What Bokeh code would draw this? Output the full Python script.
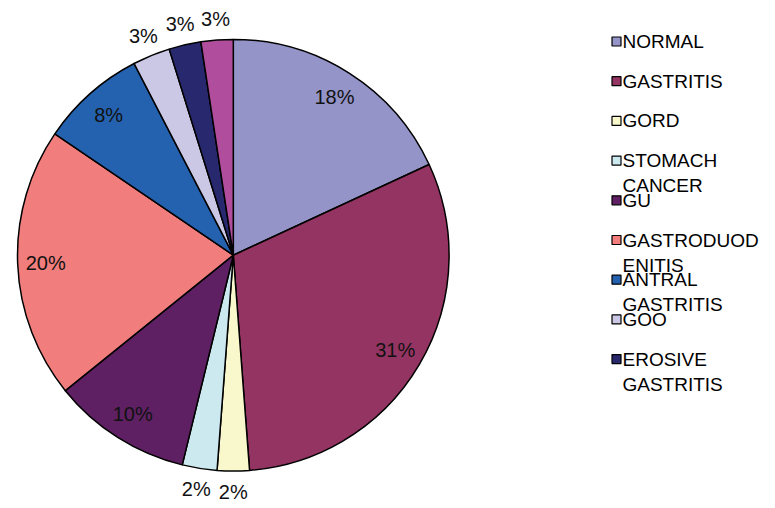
import numpy as np
from bokeh.plotting import figure
from bokeh.models import Range1d, ColumnDataSource
from bokeh.core.properties import value
from bokeh.embed import file_html
from bokeh.resources import INLINE

categories = ["NORMAL", "GASTRITIS", "GORD", "STOMACH\nCANCER", "GU",
              "GASTRODUOD\nENITIS", "ANTRAL\nGASTRITIS", "GOO",
              "EROSIVE\nGASTRITIS", "OTHER"]
values = [18.1, 30.7, 2.4, 2.6, 10.4, 20.3, 7.9, 2.8, 2.4, 2.4]
labels = ["18%", "31%", "2%", "2%", "10%", "20%", "8%", "3%", "3%", "3%"]
colors = ["#9494C9", "#943462", "#F8F8CC", "#CCE9EF", "#5E2062",
          "#F27D7D", "#2462B0", "#CAC8E4", "#28286E", "#B04E9D"]
legend_count = 9

W, H = 775, 508
p = figure(width=W, height=H, output_backend="svg", toolbar_location=None,
           x_range=Range1d(0, W), y_range=Range1d(0, H), min_border=0)
p.axis.visible = False
p.grid.visible = False
p.outline_line_color = None
p.background_fill_color = "white"

cx, cy, R = 232.8, 253.3, 215.8
vals = np.array(values, dtype=float)
frac = vals / vals.sum()
cum_end = np.cumsum(frac)
cum_start = cum_end - frac
start = np.pi / 2 - 2 * np.pi * cum_start
end = np.pi / 2 - 2 * np.pi * cum_end

src = ColumnDataSource(dict(start=start, end=end, color=colors))
p.wedge(x=cx, y=cy, radius=R, start_angle="start", end_angle="end",
        direction="clock", fill_color="color", line_color="black",
        line_width=1.5, source=src)

mid = np.pi / 2 - 2 * np.pi * (cum_start + cum_end) / 2
rad = np.where(vals < 5, R + 21, R * 0.87)
lx = cx + rad * np.cos(mid)
ly = cy + rad * np.sin(mid)
p.text(x=lx, y=ly, text=labels, text_align="center", text_baseline="middle",
       text_font=value("Liberation Sans"), text_font_size="20px",
       text_color="#111111")

# legend
rows = np.arange(legend_count)
ly0 = H - 41 - 39.7 * rows
p.rect(x=np.full(legend_count, 616.0), y=ly0, width=9, height=9,
       fill_color=colors[:legend_count], line_color="black", line_width=1.2)
p.text(x=np.full(legend_count, 622.0), y=ly0 + 10.5,
       text=categories[:legend_count], text_align="left", text_baseline="top",
       text_font=value("Liberation Sans"), text_font_size="19px",
       text_line_height=1.2, text_color="black")

open("out.html", "w").write(file_html(p, INLINE))
